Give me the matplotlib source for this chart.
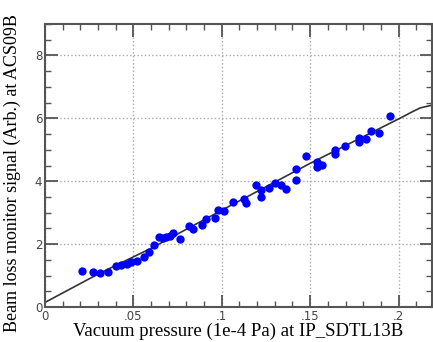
import numpy as np
import matplotlib.pyplot as plt
from matplotlib.ticker import MultipleLocator, FixedFormatter, FixedLocator

pressure = [0.0207, 0.0270, 0.0312, 0.0358, 0.0400, 0.0428, 0.0466, 0.0484, 0.0518, 0.0560,
            0.0591, 0.0616, 0.0643, 0.0667, 0.0686, 0.0706, 0.0725, 0.0762, 0.0817, 0.0836,
            0.0890, 0.0911, 0.0962, 0.0979, 0.1014, 0.1066, 0.1123, 0.1136, 0.1194, 0.1222,
            0.1224, 0.1266, 0.1303, 0.1333, 0.1366, 0.1422, 0.1422, 0.1475, 0.1540, 0.1540,
            0.1568, 0.1643, 0.1643, 0.1698, 0.1775, 0.1778, 0.1818, 0.1846, 0.1887, 0.1950]
signal = [1.16, 1.12, 1.09, 1.12, 1.31, 1.34, 1.37, 1.43, 1.47, 1.60,
          1.75, 1.96, 2.23, 2.19, 2.22, 2.27, 2.34, 2.17, 2.59, 2.48,
          2.61, 2.79, 2.82, 3.09, 3.06, 3.33, 3.45, 3.31, 3.89, 3.73,
          3.51, 3.77, 3.94, 3.89, 3.76, 4.39, 4.04, 4.79, 4.62, 4.46,
          4.52, 4.99, 4.87, 5.12, 5.37, 5.26, 5.34, 5.61, 5.53, 6.07]

# fitted curve as drawn
fit_x = [0.0, 0.03, 0.06, 0.10, 0.15, 0.20, 0.2075, 0.2122, 0.219]
fit_y = [0.15, 1.05, 1.87, 3.08, 4.57, 5.98, 6.20, 6.33, 6.42]

x_ticks = [0, 0.05, 0.1, 0.15, 0.2]
x_ticklabels = ['0', '.05', '.1', '.15', '.2']
y_ticks = [0, 2, 4, 6, 8]

fig = plt.figure(figsize=(4.33, 3.42), dpi=100)
ax = fig.add_axes([0.104, 0.102, 0.894, 0.828])

ax.plot(fit_x, fit_y, color='#333333', lw=1.2, zorder=2)
ax.plot(pressure, signal, 'o', color='#0000ff', ms=6, mec='none', zorder=3)

ax.set_xlim(0, 0.219)
ax.set_ylim(0, 9)
ax.xaxis.set_major_locator(FixedLocator(x_ticks))
ax.xaxis.set_major_formatter(FixedFormatter(x_ticklabels))
ax.xaxis.set_minor_locator(MultipleLocator(0.01))
ax.yaxis.set_major_locator(FixedLocator(y_ticks))
ax.yaxis.set_minor_locator(MultipleLocator(0.5))

ax.tick_params(which='both', direction='in', top=True, right=True,
               color='#555555', labelcolor='#444444', labelsize=8.5, pad=2)
ax.tick_params(which='major', length=9, width=1.3)
ax.tick_params(which='minor', length=4, width=1.0)

for s in ax.spines.values():
    s.set_color('#555555')
    s.set_linewidth(1.5)

ax.grid(True, which='major', linestyle=':', color='#aaaaaa', lw=1.0)

ax.set_xlabel('Vacuum pressure (1e-4 Pa) at IP_SDTL13B', family='Liberation Serif',
              fontsize=13.5, labelpad=0)
ax.set_ylabel('Beam loss monitor signal (Arb.) at ACS09B', family='Liberation Serif',
              fontsize=13)
ax.yaxis.set_label_coords(-0.062, 0.475)

plt.savefig('out.png', dpi=100)
